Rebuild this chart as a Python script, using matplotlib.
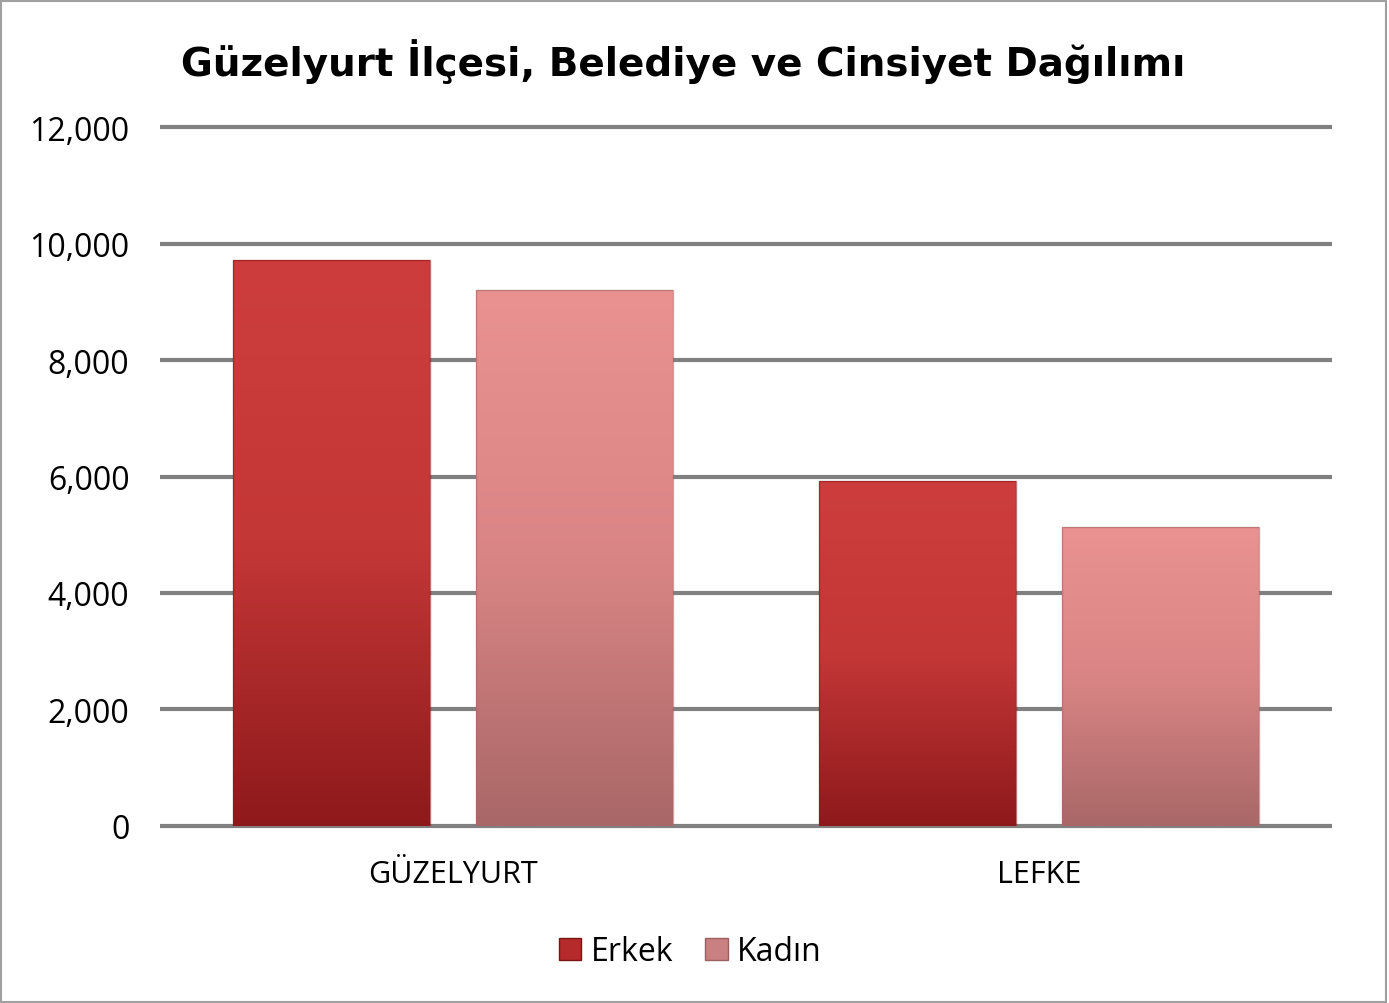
import numpy as np
import matplotlib
matplotlib.use("Agg")
import matplotlib.pyplot as plt
from matplotlib.colors import LinearSegmentedColormap
from matplotlib.patches import Rectangle

# data
categories = ["GÜZELYURT", "LEFKE"]
series_names = ["Erkek", "Kadın"]
erkek = [9710, 5930]
kadin = [9210, 5130]
yticks = [0, 2000, 4000, 6000, 8000, 10000, 12000]

title = "Güzelyurt İlçesi, Belediye ve Cinsiyet Dağılımı"

# gradient colours, top -> bottom
grad = {
    "Erkek": ["#cd3d3d", "#c43737", "#8e191b"],
    "Kadın": ["#ea9292", "#da8585", "#a96767"],
}
legend_col = {"Erkek": "#b52a2a", "Kadın": "#c98080"}

plt.rcParams['font.family'] = ['Open Sans', 'DejaVu Sans']

fig = plt.figure(figsize=(13.89, 10.04), dpi=100)
ax = fig.add_axes([0.1152, 0.1763, 0.8437, 0.6962])

x = np.arange(len(categories)) + 0.5
w = 0.336
off = 0.207

ax.set_xlim(0, 2)
ax.set_ylim(0, 12000)

for yv in yticks:
    ax.axhline(yv, color="#808080", lw=3, zorder=1, clip_on=False, solid_capstyle="butt")

def gradient_bars(xs, vals, name):
    bars = ax.bar(xs, vals, width=w, color="none", edgecolor="none", zorder=2, label=name)
    cmap = LinearSegmentedColormap.from_list(name, grad[name][::-1])
    img = np.linspace(0, 1, 256).reshape(-1, 1)
    for b in bars:
        x0, y0 = b.get_x(), b.get_y()
        bw, bh = b.get_width(), b.get_height()
        im = ax.imshow(img, cmap=cmap, aspect="auto", origin="lower",
                       extent=[x0, x0 + bw, y0, y0 + bh], zorder=3)
        clip = Rectangle((x0, y0), bw, bh, transform=ax.transData)
        im.set_clip_path(clip)
        # soft bevel edge
        ax.add_patch(Rectangle((x0, y0), bw, bh, fill=False,
                               edgecolor=grad[name][2], lw=1.0, alpha=0.6, zorder=4))
    return bars

gradient_bars(x - off, erkek, "Erkek")
gradient_bars(x + off, kadin, "Kadın")

ax.set_xticks(x)
ax.set_xticklabels(categories, fontsize=22)
ax.set_yticks(yticks)
ax.set_yticklabels([f"{v:,}" for v in yticks], fontsize=23)
ax.tick_params(axis="both", length=0)
ax.tick_params(axis="x", pad=24)
ax.tick_params(axis="y", pad=22)
for s in ax.spines.values():
    s.set_visible(False)

fig.text(0.492, 0.939, title, ha="center", va="center", fontsize=28, fontweight="bold",
         family=['DejaVu Sans'])

handles = [Rectangle((0, 0), 1, 1, facecolor=legend_col[n], edgecolor="#7a1515" if n == "Erkek" else "#9a5f5f")
           for n in series_names]
fig.legend(handles, series_names, loc="center", bbox_to_anchor=(0.497, 0.051), ncol=2,
           frameon=False, fontsize=23, handlelength=0.7, handleheight=0.7,
           handletextpad=0.3, columnspacing=1.0)

# outer frame
fig.patches.append(Rectangle((0.001, 0.001), 0.997, 0.997, transform=fig.transFigure,
                             fill=False, edgecolor="#a0a0a0", lw=1.5))

fig.savefig("out.png", dpi=100)
